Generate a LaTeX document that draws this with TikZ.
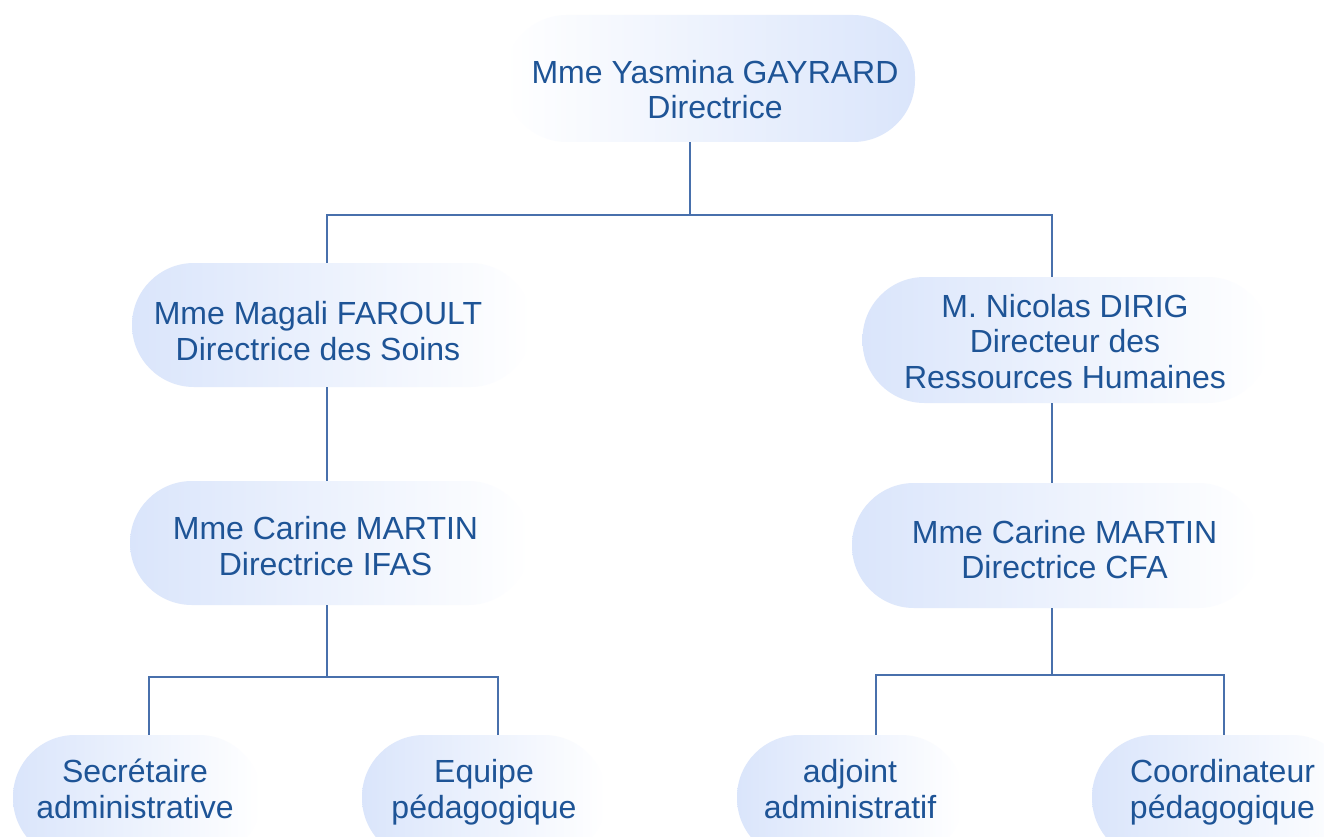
\documentclass[tikz,border=0pt]{standalone}
\usepackage{fontspec}
\setmainfont{Liberation Sans}
\definecolor{txtblue}{RGB}{30,84,150}
\definecolor{lineblue}{RGB}{72,112,172}
\definecolor{pillblue}{RGB}{218,229,251}
\begin{document}
\begin{tikzpicture}[x=1pt,y=-1pt,
  pill/.style={rectangle, rounded corners=62pt, draw=none, inner sep=0pt},
  pillL/.style={pill, left color=pillblue, right color=white},
  pillR/.style={pill, left color=white, right color=pillblue},
  txt/.style={text=txtblue, align=center, font=\fontsize{32}{35.5}\selectfont, inner sep=0pt},
  conn/.style={draw=lineblue, line width=2pt}]
\useasboundingbox (0,0) rectangle (1324,837);
\clip (0,0) rectangle (1324,837);
\fill[white] (0,0) rectangle (1324,837);

% pills
\node[pillR, minimum width=410pt, minimum height=127pt] (top) at (710,78.5) {};
\node[pillL, minimum width=400pt, minimum height=124pt] (magali) at (332,325) {};
\node[pillL, minimum width=400pt, minimum height=124pt] (ifas) at (330,543) {};
\node[pillL, minimum width=407pt, minimum height=126pt] (nicolas) at (1066,340) {};
\node[pillL, minimum width=408pt, minimum height=125pt] (cfa) at (1056,545.5) {};
\node[pillL, minimum width=248pt, minimum height=125pt] (sec) at (137,797.5) {};
\node[pillL, minimum width=244pt, minimum height=125pt] (equipe) at (484,797.5) {};
\node[pillL, minimum width=226pt, minimum height=125pt] (adjoint) at (850,797.5) {};
\node[pillL, minimum width=262pt, minimum height=125pt] (coord) at (1223,797.5) {};

% texts
\node[txt] (topT) at (715,89.5) {Mme Yasmina GAYRARD\\Directrice};
\node[txt] (magaliT) at (318,331) {Mme Magali FAROULT\\Directrice des Soins};
\node[txt] (ifasT) at (325.5,546) {Mme Carine MARTIN\\Directrice IFAS};
\node[txt] (nicolasT) at (1065,341.5) {M. Nicolas DIRIG\\Directeur des\\Ressources Humaines};
\node[txt] (cfaT) at (1064.5,549.5) {Mme Carine MARTIN\\Directrice CFA};
\node[txt] (secT) at (135,789) {Secrétaire\\administrative};
\node[txt] (equipeT) at (484,792) {Equipe\\pédagogique};
\node[txt] (adjointT) at (850,789) {adjoint\\administratif};
\node[txt] (coordT) at (1222.5,792) {Coordinateur\\pédagogique};

% junctions
\coordinate (jA) at (690,215);
\coordinate (jAl) at (327,215);
\coordinate (jAr) at (1052,215);
\coordinate (jB) at (327,677);
\coordinate (jBl) at (149,677);
\coordinate (jBr) at (498,677);
\coordinate (jC) at (1052,675);
\coordinate (jCl) at (876,675);
\coordinate (jCr) at (1224,675);

% connectors
\draw[conn] (top.south -| jA) -- (jA);
\draw[conn] (magali.north -| jAl) -- (jAl) -- (jAr) -- (nicolas.north -| jAr);
\draw[conn] (magali.south -| jAl) -- (ifas.north -| jAl);
\draw[conn] (nicolas.south -| jAr) -- (cfa.north -| jAr);
\draw[conn] (ifas.south -| jB) -- (jB);
\draw[conn] (sec.north -| jBl) -- (jBl) -- (jBr) -- (equipe.north -| jBr);
\draw[conn] (cfa.south -| jC) -- (jC);
\draw[conn] (adjoint.north -| jCl) -- (jCl) -- (jCr) -- (coord.north -| jCr);
\end{tikzpicture}
\end{document}
